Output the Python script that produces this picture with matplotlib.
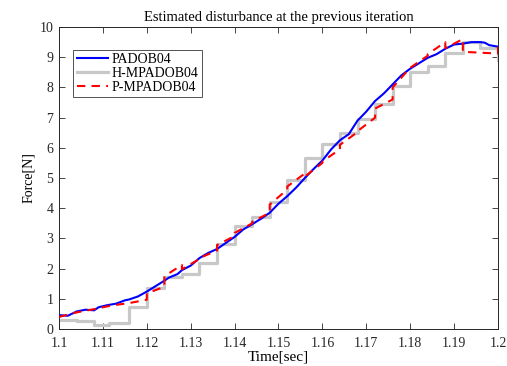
import numpy as np
import matplotlib.pyplot as plt

plt.rcParams['font.family'] = ['Liberation Serif', 'DejaVu Serif']

# PADOB04 (blue, smooth estimate)
t_blue = [1.100, 1.102, 1.104, 1.106, 1.108, 1.109, 1.111, 1.113, 1.115, 1.116,
          1.118, 1.120, 1.122, 1.124, 1.125, 1.127, 1.128, 1.130, 1.132, 1.134,
          1.136, 1.138, 1.140, 1.142, 1.144, 1.146, 1.148, 1.150, 1.152, 1.154,
          1.156, 1.158, 1.160, 1.162, 1.164, 1.166, 1.168, 1.170, 1.172, 1.174,
          1.176, 1.178, 1.180, 1.182, 1.184, 1.186, 1.188, 1.190, 1.192, 1.194,
          1.196, 1.197, 1.198, 1.200]
y_blue = [0.46, 0.44, 0.58, 0.64, 0.62, 0.72, 0.79, 0.84, 0.95, 0.98,
          1.08, 1.24, 1.42, 1.60, 1.70, 1.82, 1.95, 2.10, 2.35, 2.52,
          2.65, 2.85, 3.05, 3.30, 3.47, 3.65, 3.85, 4.15, 4.40, 4.68,
          5.00, 5.30, 5.58, 5.95, 6.25, 6.45, 6.90, 7.20, 7.55, 7.80,
          8.10, 8.40, 8.62, 8.80, 8.98, 9.10, 9.28, 9.42, 9.45, 9.50,
          9.50, 9.48, 9.40, 9.35]

# H-MPADOB04 (gray, held estimate)
t_gray = [1.100, 1.104, 1.108, 1.1115, 1.116, 1.120, 1.124, 1.128, 1.132, 1.136,
          1.140, 1.144, 1.148, 1.152, 1.156, 1.160, 1.164, 1.168, 1.172, 1.176,
          1.180, 1.184, 1.188, 1.192, 1.196, 1.200]
y_gray = [0.30, 0.25, 0.14, 0.20, 0.74, 1.35, 1.72, 1.82, 2.17, 2.82,
          3.42, 3.70, 4.20, 4.95, 5.65, 6.12, 6.50, 6.95, 7.45, 8.05,
          8.50, 8.70, 9.14, 9.51, 9.32, 8.90]

# P-MPADOB04 (red dashed, predicted estimate)
t_red = [1.100, 1.104, 1.108, 1.112, 1.116, 1.120, 1.120, 1.124, 1.124, 1.128,
         1.128, 1.132, 1.132, 1.136, 1.136, 1.140, 1.140, 1.144, 1.144, 1.148,
         1.148, 1.152, 1.152, 1.156, 1.156, 1.160, 1.160, 1.164, 1.164, 1.168,
         1.168, 1.172, 1.172, 1.176, 1.176, 1.180, 1.180, 1.184, 1.184, 1.188,
         1.188, 1.192, 1.192, 1.196, 1.200, 1.200]
y_red = [0.40, 0.55, 0.66, 0.78, 0.86, 0.97, 1.18, 1.40, 1.75, 2.12,
         1.98, 2.32, 2.35, 2.60, 2.78, 3.08, 3.18, 3.50, 3.55, 3.85,
         4.12, 4.62, 4.72, 5.15, 5.05, 5.50, 5.55, 5.95, 6.10, 6.52,
         6.55, 7.00, 7.30, 7.60, 8.00, 8.65, 8.65, 9.05, 9.10, 9.50,
         9.30, 9.60, 9.18, 9.15, 9.12, 9.35]

fig = plt.figure(figsize=(5.07, 3.66), dpi=100)
ax = fig.add_axes([0.1164, 0.101, 0.8658, 0.8252])

ax.plot(t_blue, y_blue, color='#0000ff', lw=1.5, label='PADOB04', zorder=3)
ax.step(t_gray, y_gray, where='post', color='#c8c8c8', lw=2.3, label='H-MPADOB04', zorder=2)
ax.plot(t_red, y_red, color='#ff0000', lw=1.5, ls=(0, (4, 3)), label='P-MPADOB04', zorder=4)

ax.set_xlim(1.1, 1.2)
ax.set_ylim(0, 10)
ax.set_xticks(np.round(np.arange(1.1, 1.2001, 0.01), 2))
ax.set_xticklabels(['1.1', '1.11', '1.12', '1.13', '1.14', '1.15', '1.16',
                    '1.17', '1.18', '1.19', '1.2'])
ax.set_yticks(range(0, 11))
ax.tick_params(direction='in', top=True, right=True, length=4, width=0.6,
               labelsize=10, colors='#262626')
ax.tick_params(axis='x', pad=6)
ax.tick_params(axis='y', pad=4)
for s in ax.spines.values():
    s.set_color('#262626')
    s.set_linewidth(0.7)

ax.set_title('Estimated disturbance at the previous iteration', fontsize=10.5, pad=4)
ax.set_xlabel('Time[sec]', fontsize=11, labelpad=0)
ax.set_ylabel('Force[N]', fontsize=10, labelpad=3)

leg = ax.legend(loc='upper left', bbox_to_anchor=(0.032, 0.925), fontsize=10,
                frameon=True, fancybox=False, handlelength=2.3, handletextpad=0.2,
                borderpad=0.25, labelspacing=0.05, borderaxespad=0)
leg.get_frame().set_edgecolor('#262626')
leg.get_frame().set_linewidth(0.7)

fig.savefig('out.png', dpi=100)
